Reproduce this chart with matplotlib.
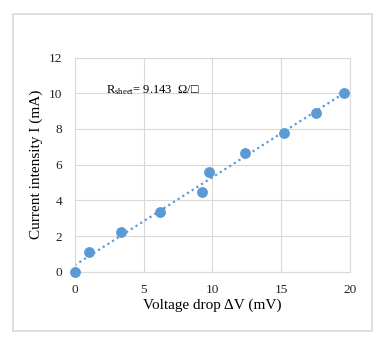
import numpy as np
import matplotlib
matplotlib.use("Agg")
import matplotlib.pyplot as plt
from matplotlib.patches import Rectangle

voltage = [0, 1.04, 3.39, 6.22, 9.25, 9.75, 12.37, 15.23, 17.51, 19.56]  # mV
current = [0, 1.12, 2.24, 3.35, 4.45, 5.57, 6.67, 7.79, 8.90, 10.02]  # mA
x_ticks = [0, 5, 10, 15, 20]
y_ticks = [0, 2, 4, 6, 8, 10, 12]

plt.rcParams['font.family'] = ['Liberation Serif', 'DejaVu Serif']
plt.rcParams['mathtext.fontset'] = 'custom'
plt.rcParams['mathtext.rm'] = 'Liberation Serif'

blue = '#5B9BD5'
grid = '#d9d9d9'

fig = plt.figure(figsize=(3.89, 3.45), dpi=100)
ax = fig.add_axes([0.192, 0.2125, 0.708, 0.6205])

# outer chart frame
fig.patches.append(Rectangle((13 / 389, 1 - 331 / 345), 359 / 389, 317 / 345,
                             transform=fig.transFigure, fill=False,
                             edgecolor=grid, linewidth=1.2))

# linear trendline
k, b = np.polyfit(voltage, current, 1)
xs = np.array([0, max(voltage)])
ax.plot(xs, k * xs + b, linestyle=(0, (1, 1.5)), color=blue, linewidth=1.6, zorder=2)

ax.scatter(voltage, current, s=46, color=blue, zorder=3, clip_on=False)

ax.set_xlim(0, 20)
ax.set_ylim(0, 12)
ax.set_xticks(x_ticks)
ax.set_yticks(y_ticks)
ax.grid(True, color=grid, linewidth=0.8)
ax.set_axisbelow(True)
for s in ax.spines.values():
    s.set_color(grid)
    s.set_linewidth(0.8)
ax.tick_params(length=0, labelsize=9.5, pad=9, colors='#222222')

ax.set_xlabel('Voltage drop ΔV (mV)', fontsize=11, labelpad=2)
ax.set_ylabel('Current intensity I (mA)', fontsize=11, labelpad=4)

ax.text(2.28, 10.2, r'$\mathregular{R_{sheet}}$= 9.143  Ω/□', fontsize=9,
        va='center', ha='left')

fig.savefig('out.png', dpi=100)
